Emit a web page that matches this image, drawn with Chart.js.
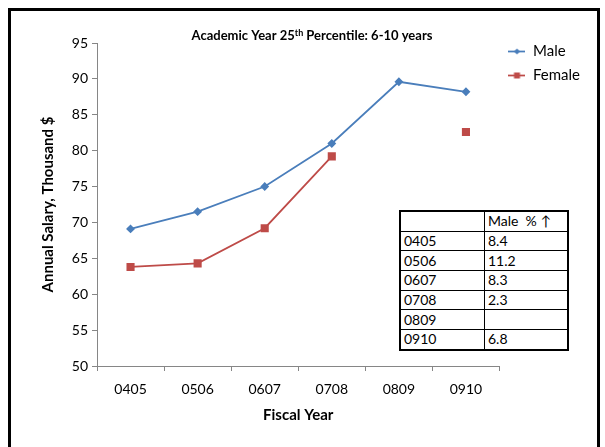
<!DOCTYPE html>
<html>
<head>
<meta charset="utf-8">
<script src="https://cdn.jsdelivr.net/npm/chart.js@4.4.0/dist/chart.umd.min.js"></script>
<style>
    body { margin: 0; background: #fff; }
    #wrap { position: relative; width: 605px; height: 447px; overflow: hidden; }
    #myChart { position: absolute; left: 0; top: 0; }
    #frame { position: absolute; left: 8px; top: 8px; width: 586px; height: 500px; border: 3px solid #000; pointer-events: none; }
    #pct-table { position: absolute; left: 399px; top: 210px; border-collapse: collapse; font-family: Lato, sans-serif; font-size: 14px; color: #000; background: #fff; }
    #pct-table td { border: 1px solid #000; padding: 0 0 0 3px; height: 18.7px; line-height: 18px; white-space: pre; }
</style>
</head>
<body>
<div id="wrap">
    <canvas id="myChart" width="605" height="447"></canvas>
    <table id="pct-table"></table>
    <div id="frame"></div>
</div>
<script>
// Chart data
const categories = ['0405', '0506', '0607', '0708', '0809', '0910']
const maleSalary = [69.1, 71.5, 75.0, 81.0, 89.6, 88.2]
const femaleSalary = [63.8, 64.3, 69.2, 79.2, null, 82.6]
const yTickMin = 50
const yTickMax = 95
const yTickStep = 5

// Table data
const tableHeader = ['', 'Male  % \u2191']
const tableYears = ['0405', '0506', '0607', '0708', '0809', '0910']
const malePctHigher = ['8.4', '11.2', '8.3', '2.3', '', '6.8']

const maleColor = '#4a7ebb'
const femaleColor = '#be4b48'
const axisColor = '#868686'

// Build the table
function buildTable(){
    let table = document.getElementById('pct-table')
    let rows = [tableHeader]
    for (let i=0; i<tableYears.length; i++){
        rows.push([tableYears[i], malePctHigher[i]])
    }
    for (let i=0; i<rows.length; i++){
        let tr = document.createElement('tr')
        for (let j=0; j<rows[i].length; j++){
            let td = document.createElement('td')
            td.textContent = rows[i][j]
            td.style.width = j == 0 ? '80px' : '79px'
            tr.appendChild(td)
        }
        table.appendChild(tr)
    }
    table.style.border = '2px solid #000'
}

// Legend icon: line with marker
function makeIcon(color, shape){
    let c = document.createElement('canvas')
    c.width = 17
    c.height = 9
    let ctx = c.getContext('2d')
    ctx.strokeStyle = color
    ctx.lineWidth = 1.75
    ctx.beginPath()
    ctx.moveTo(0, 4.5)
    ctx.lineTo(17, 4.5)
    ctx.stroke()
    ctx.fillStyle = color
    ctx.beginPath()
    if (shape == 'diamond'){
        ctx.moveTo(8.5, 1.5)
        ctx.lineTo(11.5, 4.5)
        ctx.lineTo(8.5, 7.5)
        ctx.lineTo(5.5, 4.5)
        ctx.closePath()
    } else {
        ctx.rect(5.5, 1.5, 6, 6)
    }
    ctx.fill()
    return c
}

// Title with superscript
const titlePlugin = {
    id: 'supTitle',
    afterDraw(chart){
        const ctx = chart.ctx
        const parts = [['Academic Year 25', 13, 0], ['th', 9, -4], [' Percentile: 6-10 years', 13, 0]]
        ctx.save()
        ctx.fillStyle = '#000'
        ctx.textBaseline = 'alphabetic'
        let total = 0
        for (let p of parts){
            ctx.font = 'bold ' + p[1] + 'px Lato, sans-serif'
            total += ctx.measureText(p[0]).width
        }
        let x = 312 - total / 2
        for (let p of parts){
            ctx.font = 'bold ' + p[1] + 'px Lato, sans-serif'
            ctx.fillText(p[0], x, 40 + p[2])
            x += ctx.measureText(p[0]).width
        }
        ctx.restore()
    }
}

// Move legend up a little
const legendShift = {
    id: 'legendShift',
    afterLayout(chart){
        chart.legend.top -= 8
    }
}

function drawChart(){
    const data = {
        labels: categories,
        datasets: [
            {
                label: 'Male',
                data: maleSalary,
                borderColor: maleColor,
                backgroundColor: maleColor,
                borderWidth: 1.75,
                pointStyle: 'rectRot',
                pointRadius: 3.2,
                pointHoverRadius: 3.2,
                tension: 0,
                spanGaps: false,
            },
            {
                label: 'Female',
                data: femaleSalary,
                borderColor: femaleColor,
                backgroundColor: femaleColor,
                borderWidth: 1.75,
                pointStyle: 'rect',
                pointRadius: 4.5,
                pointHoverRadius: 4.5,
                tension: 0,
                spanGaps: false,
            }
        ]
    }

    const icons = [makeIcon(maleColor, 'diamond'), makeIcon(femaleColor, 'square')]

    const config = {
        type: 'line',
        data: data,
        options: {
            responsive: false,
            animation: false,
            layout: { padding: { top: 43, left: 35, right: 15, bottom: 19 } },
            plugins: {
                title: { display: false },
                tooltip: { enabled: false },
                legend: {
                    position: 'right',
                    align: 'start',
                    labels: {
                        usePointStyle: true,
                        pointStyleWidth: 17,
                        padding: 9,
                        color: '#000',
                        font: { family: 'Lato', size: 15 },
                        generateLabels: function(chart){
                            return chart.data.datasets.map(function(ds, i){
                                return {
                                    text: ds.label,
                                    pointStyle: icons[i],
                                    fillStyle: ds.borderColor,
                                    strokeStyle: ds.borderColor,
                                    lineWidth: 0,
                                    datasetIndex: i,
                                    fontColor: '#000',
                                }
                            })
                        }
                    }
                }
            },
            scales: {
                x: {
                    offset: true,
                    afterFit: function(scale){ scale.height = 62 },
                    grid: { display: true, offset: true, drawOnChartArea: false, drawTicks: true, tickLength: 5, color: axisColor },
                    border: { color: axisColor, width: 1 },
                    ticks: { color: '#000', padding: 10, font: { family: 'Lato', size: 14 } },
                    title: { display: true, text: 'Fiscal Year', color: '#000', padding: 4, font: { family: 'Lato', size: 15, weight: 'bold' } }
                },
                y: {
                    min: yTickMin,
                    max: yTickMax,
                    afterFit: function(scale){ scale.width = 62 },
                    grid: { display: true, drawOnChartArea: false, drawTicks: true, tickLength: 5, color: axisColor },
                    border: { color: axisColor, width: 1 },
                    ticks: { stepSize: yTickStep, color: '#000', padding: 4, font: { family: 'Lato', size: 14 } },
                    title: { display: true, text: 'Annual Salary, Thousand $', color: '#000', padding: 4, font: { family: 'Lato', size: 15, weight: 'bold' } }
                }
            }
        },
        plugins: [titlePlugin, legendShift]
    }

    const myChart = new Chart(document.getElementById('myChart'), config)
}

document.addEventListener('DOMContentLoaded', function(){
    buildTable()
    drawChart()
})
</script>
</body>
</html>
